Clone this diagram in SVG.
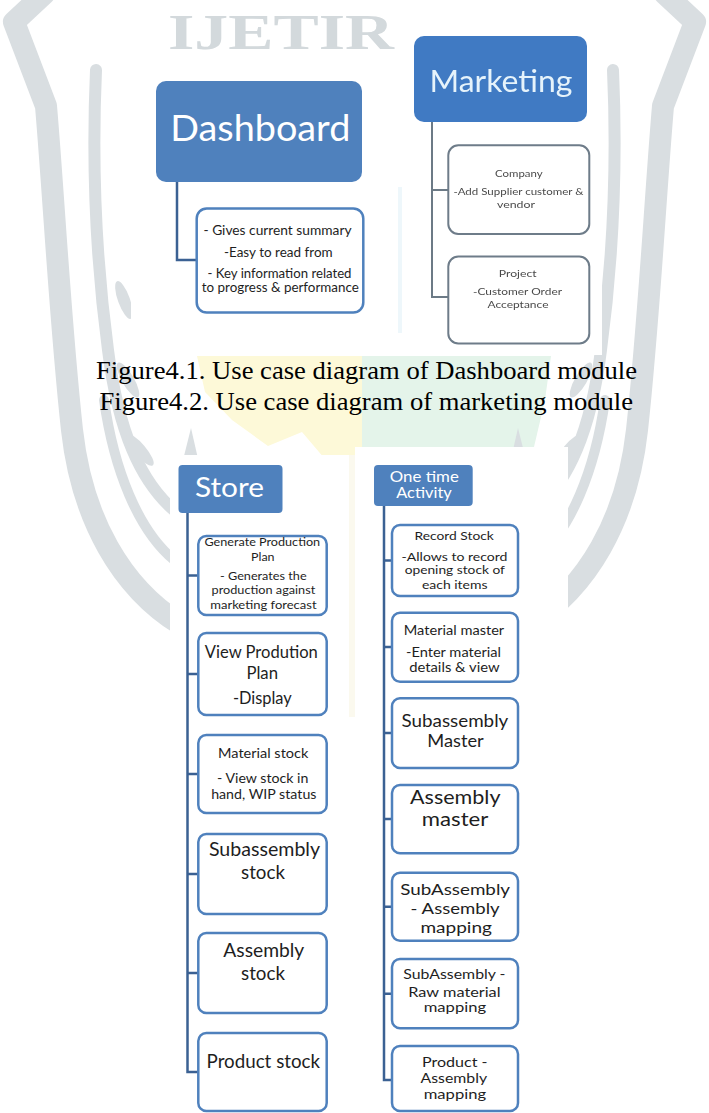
<svg xmlns="http://www.w3.org/2000/svg" width="709" height="1113" viewBox="0 0 709 1113">
  <defs>
    <style>
      .wm { fill: none; stroke: #d9dee1; stroke-linecap: round; stroke-linejoin: round; }
      .wmfill { fill: #d9dee1; }
      .paper { fill: #ffffff; }
      .head { fill: #4f81bd; }
      .mhead { fill: #3f7ac3; }
      .box { fill: #ffffff; stroke: #4f81bd; stroke-width: 2.5; }
      .mbox { fill: #ffffff; stroke: #6e7c89; stroke-width: 2; }
      .conn { fill: none; stroke: #3b6193; stroke-width: 2.5; }
      .mconn { fill: none; stroke: #6c7a86; stroke-width: 2; }
      .ht { fill: #ffffff; font-family: Lato, "Open Sans", "Liberation Sans", sans-serif; text-anchor: middle; }
      .mht { fill: #e6f3fb; font-family: Lato, "Open Sans", "Liberation Sans", sans-serif; text-anchor: middle; }
      .t { fill: #1e1e1e; font-family: Lato, "Open Sans", "Liberation Sans", sans-serif; text-anchor: middle; }
      .mt { fill: #4a4a4a; font-family: Lato, "Open Sans", "Liberation Sans", sans-serif; text-anchor: middle; font-size: 10px; }
      .cap { fill: #000000; font-family: "Liberation Serif", "Times New Roman", serif; font-size: 25px; text-anchor: middle; }
    </style>
    <filter id="soft" x="-5%" y="-5%" width="110%" height="110%">
      <feGaussianBlur stdDeviation="0.55"/>
    </filter>
  </defs>

  <rect x="0" y="0" width="709" height="1113" fill="#ffffff"/>

  <!-- faint page watermark -->
  <g id="watermark">
    <text x="281" y="49" font-family="'Liberation Serif', serif" font-size="50" font-weight="bold" fill="#d3d9dc" text-anchor="middle" textLength="226" lengthAdjust="spacingAndGlyphs">IJETIR</text>
    <polygon points="197,356 362,356 362,455 353,482 336,472 302,432 268,446 232,420 205,392" fill="#fdf9d8"/>
    <polygon points="362,356 551,356 545,400 534,447 362,447" fill="#e4f4ea"/>
    <g id="wm-left">
      <path class="wm" stroke-width="22" d="M 44 -6 L 14 22 L 46 106 C 54 200 60 320 72 430 C 82 520 122 588 180 624"/>
      <path class="wm" stroke-width="12" d="M 96 70 C 92 160 96 260 108 350 C 118 430 140 482 176 512"/>
      <path class="wm" stroke-width="10" d="M 104 400 C 114 470 138 530 174 560"/>
      <path class="wmfill" d="M 180 472 L 191 428 L 201 472 Z"/>
      <ellipse class="wmfill" cx="124" cy="300" rx="6" ry="20" transform="rotate(-20 124 300)"/>
      <ellipse class="wmfill" cx="128" cy="380" rx="6" ry="20" transform="rotate(-30 128 380)"/>
      <ellipse class="wmfill" cx="140" cy="450" rx="6" ry="20" transform="rotate(-40 140 450)"/>
    </g>
    <use href="#wm-left" transform="translate(709 0) scale(-1 1)"/>
  </g>

  <!-- white backgrounds of the four figure panels -->
  <g id="panels">
    <rect class="paper" x="131" y="62" width="267" height="293"/>
    <rect class="paper" x="398" y="22" width="204" height="333"/>
    <rect x="398" y="187" width="4" height="146" fill="#eef7fb"/>
    <rect class="paper" x="170" y="455" width="183" height="658"/>
    <rect x="349" y="455" width="6" height="262" fill="#fbf9ee"/>
    <rect class="paper" x="355" y="447" width="213" height="666"/>
  </g>

  <!-- tree connectors -->
  <g id="connectors">
    <path class="conn" d="M 177 182 V 260 H 197"/>
    <g filter="url(#soft)">
      <path class="mconn" d="M 432 122 V 297 H 448"/>
      <path class="mconn" d="M 432 190 H 448"/>
    </g>
    <path class="conn" d="M 187.5 513 V 1072 H 198"/>
    <path class="conn" d="M 187.5 575.5 H 198 M 187.5 674 H 198 M 187.5 774 H 198 M 187.5 874 H 198 M 187.5 973 H 198"/>
    <path class="conn" d="M 384 506 V 1080 H 392"/>
    <path class="conn" d="M 384 560.5 H 392 M 384 647 H 392 M 384 733 H 392 M 384 819 H 392 M 384 906.7 H 392 M 384 993.7 H 392"/>
  </g>

  <!-- Dashboard module -->
  <g id="dashboard">
    <rect class="head" x="156" y="81" width="206" height="101" rx="10"/>
    <text class="ht" x="260.3" y="140.5" font-size="36" textLength="180" lengthAdjust="spacingAndGlyphs">Dashboard</text>
  </g>
  <g id="dashboard-summary">
    <rect class="box" x="196.7" y="208.5" width="166.6" height="104" rx="10"/>
    <text class="t" font-size="12.5" x="277.5" y="235" textLength="148" lengthAdjust="spacingAndGlyphs">- Gives current summary</text>
    <text class="t" font-size="12.5" x="278.3" y="256.5" textLength="108.7" lengthAdjust="spacingAndGlyphs">-Easy to read from</text>
    <text class="t" font-size="12.5" x="279.5" y="277.5" textLength="144" lengthAdjust="spacingAndGlyphs">- Key information related</text>
    <text class="t" font-size="12.5" x="280.3" y="292" textLength="157" lengthAdjust="spacingAndGlyphs">to progress &amp; performance</text>
  </g>

  <!-- Marketing module -->
  <g id="marketing" filter="url(#soft)">
    <rect class="mhead" x="414" y="36" width="173" height="86" rx="10"/>
    <text class="mht" x="501" y="92" font-size="30" textLength="143" lengthAdjust="spacingAndGlyphs">Marketing</text>
  </g>
  <g id="marketing-company" filter="url(#soft)">
    <rect class="mbox" x="448.3" y="145.3" width="141" height="88.7" rx="10"/>
    <text class="mt" x="518.8" y="176.7" textLength="47.6" lengthAdjust="spacingAndGlyphs">Company</text>
    <text class="mt" x="518.4" y="195" textLength="130" lengthAdjust="spacingAndGlyphs">-Add Supplier customer &amp;</text>
    <text class="mt" x="516" y="208.3" textLength="38" lengthAdjust="spacingAndGlyphs">vendor</text>
  </g>
  <g id="marketing-project" filter="url(#soft)">
    <rect class="mbox" x="448.3" y="256.5" width="141" height="87" rx="10"/>
    <text class="mt" x="517.7" y="276.5" textLength="37.9" lengthAdjust="spacingAndGlyphs">Project</text>
    <text class="mt" x="517.5" y="295" textLength="89" lengthAdjust="spacingAndGlyphs">-Customer Order</text>
    <text class="mt" x="518" y="308.3" textLength="61" lengthAdjust="spacingAndGlyphs">Acceptance</text>
  </g>

  <!-- captions -->
  <g id="captions">
    <text class="cap" x="366.5" y="378.5" textLength="541" lengthAdjust="spacingAndGlyphs">Figure4.1. Use case diagram of Dashboard module</text>
    <text class="cap" x="366.3" y="409.5" textLength="533.5" lengthAdjust="spacingAndGlyphs">Figure4.2. Use case diagram of marketing module</text>
  </g>

  <!-- Store module -->
  <g id="store">
    <rect class="head" x="178.5" y="465" width="104" height="48" rx="4"/>
    <text class="ht" x="229.5" y="496.7" font-size="26" textLength="69" lengthAdjust="spacingAndGlyphs">Store</text>
  </g>
  <g id="generate-production-plan">
    <rect class="box" x="198.3" y="536" width="128.4" height="79" rx="8"/>
    <text class="t" font-size="11" x="262.3" y="545.5" textLength="115.7" lengthAdjust="spacingAndGlyphs">Generate Production</text>
    <text class="t" font-size="11" x="262.8" y="560.5" textLength="23.5" lengthAdjust="spacingAndGlyphs">Plan</text>
    <text class="t" font-size="12" x="263.3" y="579.5" textLength="86.6" lengthAdjust="spacingAndGlyphs">- Generates the</text>
    <text class="t" font-size="12" x="263.4" y="594" textLength="103.6" lengthAdjust="spacingAndGlyphs">production against</text>
    <text class="t" font-size="12" x="263.4" y="608.5" textLength="106.3" lengthAdjust="spacingAndGlyphs">marketing forecast</text>
  </g>
  <g id="view-production-plan">
    <rect class="box" x="198.3" y="633" width="128.4" height="82" rx="8"/>
    <text class="t" font-size="17" x="261.3" y="658" textLength="113" lengthAdjust="spacingAndGlyphs">View Prodution</text>
    <text class="t" font-size="17" x="262.2" y="679" textLength="31.6" lengthAdjust="spacingAndGlyphs">Plan</text>
    <text class="t" font-size="17" x="262.3" y="704" textLength="58.8" lengthAdjust="spacingAndGlyphs">-Display</text>
  </g>
  <g id="material-stock">
    <rect class="box" x="198.3" y="735" width="128.4" height="78" rx="8"/>
    <text class="t" font-size="13" x="263.2" y="757.8" textLength="90.4" lengthAdjust="spacingAndGlyphs">Material stock</text>
    <text class="t" font-size="13" x="262.7" y="782.8" textLength="91.4" lengthAdjust="spacingAndGlyphs">- View stock in</text>
    <text class="t" font-size="13" x="263.8" y="799.3" textLength="105.3" lengthAdjust="spacingAndGlyphs">hand, WIP status</text>
  </g>
  <g id="subassembly-stock">
    <rect class="box" x="198.3" y="834" width="128.4" height="80" rx="8"/>
    <text class="t" font-size="20" x="264.5" y="856" textLength="111.2" lengthAdjust="spacingAndGlyphs">Subassembly</text>
    <text class="t" font-size="20" x="263" y="879" textLength="43.9" lengthAdjust="spacingAndGlyphs">stock</text>
  </g>
  <g id="assembly-stock">
    <rect class="box" x="198.3" y="933" width="128.4" height="80" rx="8"/>
    <text class="t" font-size="20" x="263.8" y="957" textLength="80.9" lengthAdjust="spacingAndGlyphs">Assembly</text>
    <text class="t" font-size="20" x="263" y="979.8" textLength="43.9" lengthAdjust="spacingAndGlyphs">stock</text>
  </g>
  <g id="product-stock">
    <rect class="box" x="198.3" y="1033" width="128.4" height="78" rx="8"/>
    <text class="t" font-size="19.5" x="263.3" y="1068" textLength="113.5" lengthAdjust="spacingAndGlyphs">Product stock</text>
  </g>

  <!-- One time Activity module -->
  <g id="one-time-activity">
    <rect class="head" x="374" y="465" width="98.7" height="41" rx="4"/>
    <text class="ht" x="424.3" y="481.5" font-size="15" textLength="69" lengthAdjust="spacingAndGlyphs">One time</text>
    <text class="ht" x="424" y="498" font-size="15" textLength="55.5" lengthAdjust="spacingAndGlyphs">Activity</text>
  </g>
  <g id="record-stock">
    <rect class="box" x="392" y="525" width="126" height="71" rx="8"/>
    <text class="t" font-size="12" x="454.2" y="539.5" textLength="79.2" lengthAdjust="spacingAndGlyphs">Record Stock</text>
    <text class="t" font-size="12" x="454.5" y="560.5" textLength="105.9" lengthAdjust="spacingAndGlyphs">-Allows to record</text>
    <text class="t" font-size="12" x="454.8" y="573.5" textLength="100.3" lengthAdjust="spacingAndGlyphs">opening stock of</text>
    <text class="t" font-size="12" x="454.7" y="588.5" textLength="65.6" lengthAdjust="spacingAndGlyphs">each items</text>
  </g>
  <g id="material-master">
    <rect class="box" x="392" y="612.7" width="126" height="69" rx="8"/>
    <text class="t" font-size="12.5" x="454" y="634.8" textLength="100.4" lengthAdjust="spacingAndGlyphs">Material master</text>
    <text class="t" font-size="13" x="453.5" y="657" textLength="95" lengthAdjust="spacingAndGlyphs">-Enter material</text>
    <text class="t" font-size="13" x="454.4" y="672" textLength="90.5" lengthAdjust="spacingAndGlyphs">details &amp;  view</text>
  </g>
  <g id="subassembly-master">
    <rect class="box" x="392" y="698.3" width="126" height="69.7" rx="8"/>
    <text class="t" font-size="17.5" x="454.9" y="727.4" textLength="106.8" lengthAdjust="spacingAndGlyphs">Subassembly</text>
    <text class="t" font-size="17.5" x="455.5" y="747.3" textLength="56.5" lengthAdjust="spacingAndGlyphs">Master</text>
  </g>
  <g id="assembly-master">
    <rect class="box" x="392" y="785" width="126" height="68.3" rx="8"/>
    <text class="t" font-size="19.5" x="455.3" y="804.3" textLength="90.5" lengthAdjust="spacingAndGlyphs">Assembly</text>
    <text class="t" font-size="19.5" x="455.1" y="825.5" textLength="66.5" lengthAdjust="spacingAndGlyphs">master</text>
  </g>
  <g id="subassembly-assembly-mapping">
    <rect class="box" x="392" y="872.7" width="126" height="68" rx="8"/>
    <text class="t" font-size="15.3" x="455.1" y="895" textLength="109.9" lengthAdjust="spacingAndGlyphs">SubAssembly</text>
    <text class="t" font-size="15.3" x="455.1" y="914" textLength="89" lengthAdjust="spacingAndGlyphs">- Assembly</text>
    <text class="t" font-size="15.3" x="456.2" y="932.5" textLength="71.5" lengthAdjust="spacingAndGlyphs">mapping</text>
  </g>
  <g id="subassembly-raw-material-mapping">
    <rect class="box" x="392" y="959" width="126" height="69.3" rx="8"/>
    <text class="t" font-size="14" x="454.4" y="979" textLength="102.2" lengthAdjust="spacingAndGlyphs">SubAssembly -</text>
    <text class="t" font-size="14" x="454.4" y="996.5" textLength="92.3" lengthAdjust="spacingAndGlyphs">Raw material</text>
    <text class="t" font-size="14" x="454.9" y="1011.5" textLength="62.4" lengthAdjust="spacingAndGlyphs">mapping</text>
  </g>
  <g id="product-assembly-mapping">
    <rect class="box" x="392" y="1046" width="126" height="65" rx="8"/>
    <text class="t" font-size="14" x="454.7" y="1066.5" textLength="65.6" lengthAdjust="spacingAndGlyphs">Product -</text>
    <text class="t" font-size="14" x="453.8" y="1082.5" textLength="66.5" lengthAdjust="spacingAndGlyphs">Assembly</text>
    <text class="t" font-size="14" x="454.9" y="1099" textLength="62.4" lengthAdjust="spacingAndGlyphs">mapping</text>
  </g>
</svg>
